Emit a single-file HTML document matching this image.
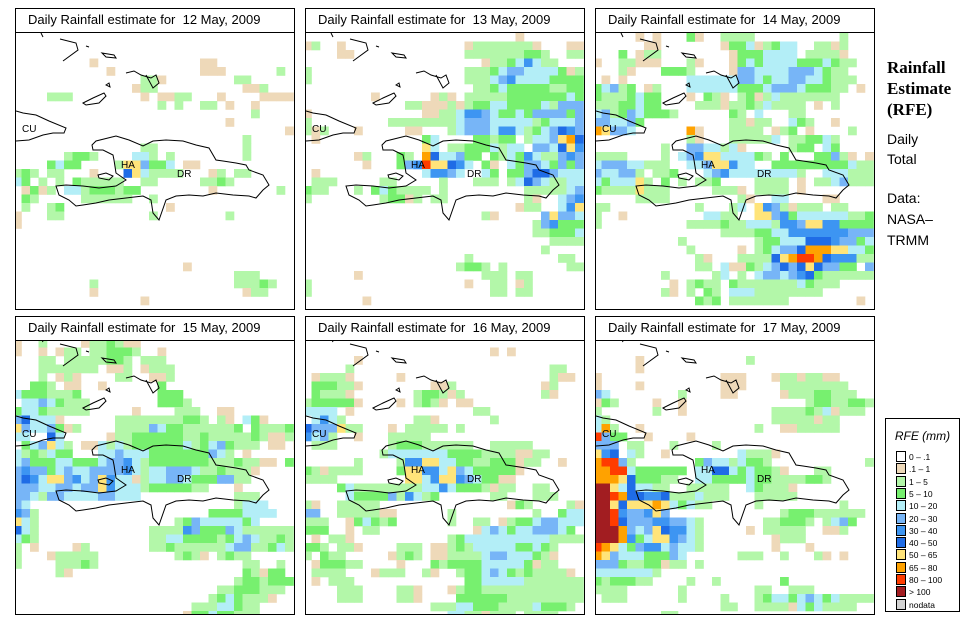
<!DOCTYPE html>
<html><head><meta charset="utf-8"><style>
body{margin:0;background:#fff;width:971px;height:635px;overflow:hidden;position:relative;font-family:"Liberation Sans",sans-serif}
.tbox{position:absolute;border:1px solid #000;box-sizing:border-box;font-size:13px;line-height:22px;padding-left:12px;white-space:pre;background:#fff}
svg.map{position:absolute;border:1px solid #000;box-sizing:border-box;background:#fff}
.side{position:absolute;left:887px;font-size:14px;line-height:20px}
</style></head><body>
<div id="root"></div>
<div class="side" style="top:57px;font-family:'Liberation Serif',serif;font-weight:bold;font-size:17px;line-height:21px">Rainfall<br>Estimate<br>(RFE)</div>
<div class="side" style="top:129px">Daily<br>Total</div>
<div class="side" style="top:188px;line-height:21px">Data:<br>NASA–<br>TRMM</div>
<div id="legend" style="position:absolute;left:885px;top:418px;width:75px;height:194px;border:1px solid #000;box-sizing:border-box"></div>
<script>
const catCodes=['.','t','g','G','c','b','B','D','y','o','r','m','n'];
const catLabels=['0 – .1','.1 – 1','1 – 5','5 – 10','10 – 20','20 – 30','30 – 40','40 – 50','50 – 65','65 – 80','80 – 100','> 100','nodata'];
const catColors=['#ffffff','#eed9b9','#b3f7a9','#77f06f','#b3eef7','#77b5f7','#3d95f2','#1f6ce6','#ffe47a','#ffa200','#ff3c00','#a21d21','#d3d3d3'];
const panelDates=['12 May, 2009','13 May, 2009','14 May, 2009','15 May, 2009','16 May, 2009','17 May, 2009'];
const p1=["","","","9t 22-23t","11t 22-24t 31g","15-16g 17t 26-27g","14t 15-16g 27-28t 29g","4-6g 15t 17-18t 19-20g 24t 29-32t","17g 19g 22-23g 25t 28t","28g","25t","32t","27g","15-16g 27g","6g 7-8G 9g 14-15c 16g 18g 27g","4G 5c 6-7G 12g 13-14y 15b 16-17G 18c 20-21t","0g 1G 2g 4-5g 9t 13D 14y 15c 16-19g 23t 24g 26-27g","0c 1G 3g 5g 7G 8-12g 15-16g 22-23g 24G 25g","1t 2G 3t 4g 6-7c 8g 9-11G 12g 13-14G 23t 31g","1G 2g 8-13g 16g","1g 4g 5G 18t","0t 4-5g 16g 25g","0t","","","","","20t","26-28g","9g 26-28g 29G 30g","9t 27t 28-29g","15t"];
const p2=["25t","0t 1g 4t 19t 20-26g 27t 31-32t","4-5t 19-25g 26-27G 28g 31-32g","21t 22g 23g 24G 25c 26B 27c 28-29g","0g 19-21g 22G 23c 24-25b 26-29c 30G 31t 32g","0g 19-21g 22c 23b 24B 25-28c 29-32G","20g 21g 22G 23c 24-28G 29-30g 31-32G","8t 15t 16g 17t 19-23g 24-30G 31c 32G","12-13g 14-16t 17g 18t 19g 20-21G 22-23c 24-27G 28c 29g 30-32b","0t 14t 15t 16-17g 18c 19-20B 21b 22c 23-24G 25c 26G 27-30b 31G 32b","0g 10-17g 18c 19-21b 22-26c 27g 28G 29-31c 32b","0g 1t 2g 6t 12-13t 17g 18c 19-21b 22c 23-24B 25c 26g 27G 28c 29b 30D 31B 32b","1t 14G 15c 20-21G 22g 23-24G 26g 27-28c 29b 30y 31o 32D","14y 15c 17-18g 19-21G 22c 23g 24-25c 27-28b 29c 30D 31y 32B","6t 7g 11G 12g 14o 15D 16-17c 18b 19-20G 22G 23g 24c 25G 26B 27c 28-29g 30b 31B 32b","7t 11G 12b 13B 14r 15-16y 17D 18B 19c 21G 22t 24c 25G 26-27b 28c 29G 30b 31G 32b","1t 14c 15-16B 17b 18c 21c 22G 24-25G 26b 27-28D 29b 30-32c","1-3g 9-10g 16g 20-21g 22g 24g 25c 26D 27b 28c 29-30g 31-32c","0G 1-2g 6g 8G 9c 10G 11-14g 16g 26-27g 28-30g 31c 32b","0g 9g 10-11G 12t 13g 15-16g 26g 27t 30c 31b 32B","25t 26-27g 30c 31B 32y","21g 22t 28b 29y 30-31b 32c","27g 28b 29B 30-32G","27-28g 29-31G 32c","29-32g","28g","19g 30-31g","18g 19-20G 21g 23g 31-32g","6t 21-23g 25-26g","0g 19t 22-23g 25t 26g","0g 22-23g 25-26g","7t"];
const p3=["5t 7t 11G 12t 15-18g 29g","6-7t 15t 16-17G 18c 19t 20g 21G 22-23c 26-27g 28t 29g","3G 5t 6-7g 16t 17-19G 20-23c 25-28g 29t","0t 3-4g 5-7t 11g 12t 16t 17G 18c 19G 20-23c 24-26G 27c 28G 29-30g","3g 4t 8-10G 11g 16t 17-18b 19-22c 23-25b 26c 27G 28-29g","1t 3t 11-16c 17-18b 19c 20G 21-22c 23-24b 25-26c 27G 28-30g","0G 1c 2b 3g 4G 6t 7g 11-16c 17-19G 20c 21-23b 24c 25-27G 28-29g 31t","0G 1-3g 4G 5c 6-7G 11t 13G 14g 15t 17g 18G 19t 20g 21c 22-28g","0-2g 3-4G 5c 6-7G 12-14g 15t 16g 17g 18G 19g 20c 21-24g 26t 28g","0c 1b 2g 3G 4b 5c 6-8G 9g 16G 17g 19c 23-24g","0b 1b 2-3c 4b 5G 16-17g 18t 19-20g 23c 24G 25g 28t","0o 1y 2-3b 4c 11o 12t 16-19g 21t 22g 23G 25t 30g","11g 12t 16-20g 21c 23-24g 25-26G 27c 28g","8g 11-12b 13-14c 15g 16c 17t 23g 24-25G 27c 28G","0-3g 8g 10c 11b 12B 13y 14y 15c 16-18c 19G 20g 22G 26-27G 28b 29g 30t 32t","0c 1-3b 4-5c 6-8g 11-12c 13b 14-15y 16B 17c 18c 21G 22-29G 30c 31-32g","0b 1-2c 3-4b 5g 7-8g 9G 13c 14b 15B 16-22c 23c 24g 27-29c 30-32g","0c 1G 2-4c 5y 6g 8G 10g 12-13g 14G 19-22g 24t 26-27g 28c 29b 30-32g","0G 1-4g 5y 6-8g 14-15g 16g 17t 19-22g 24t","5-8g 17g 18t 21-22c 27-28t","0-1g 12g 16g 17c 19y 20B 21b 22g 23t 24-26g 28-29g","0g 3t 13-14c 15-16g 19-20y 21b 22B 23G 24-29c 30-31g 32G","0g 11-14g 15G 16-17g 18-20c 21g 22-23B 24b 25-26y 27-28B 29-30G 31-32G","15-18g 19-20G 21-22c 23-29B 30-31b 32b","10g 19g 20-21G 22-24c 25-27D 28B 29-30b 31G 32c","11g 17t 19g 20G 21c 22-23b 24D 25-27o 28-29y 30-31c 32G","12g 13t 17-19g 20g 21D 22y 23o 24-25r 26o 27D 28-30B 31g 32g","12-13g 15c 16-17t 18G 19g 20c 21b 22D 23b 24D 25y 26D 27-28b 29-30G 32b","8g 14g 15c 17g 19c 20-21b 22c 23b 24B 25D 26G 27-31g 32g","9t 11g 12G 13-14g 16G 17-23g 24c 25G 26-27g 28g","8g 9t 11g 13G 14g 16-18c 19g 20-24g 25g 26g","12G 13g 14G 16-19g 20-22g 31t"];
const p4=["0t 3g 8t 9-10g 11G 12g 13-14t","0t 3t 5t 6-7g 9-10g 11-13G 14g 17t","3-4g 6-7g 8-10g 11-12G 13g 15-17g","3-4g 5-9g 11-12t 13g 15t 16-18g","3g 5t 6g 7t 12-13g 16-17t 18g","2-3G 4g 6-7t 10t 17G","0c 1-3G 4-6g 7G 17-19G","1c 2c 3b 4c 5G 6-8g 17-19G 20g","0G 1-2c 3G 4-8g 14t 19-21g 24-25t","0b 1D 2-4c 5t 12-19g 20-21G 22g 24g 25t 27c 28G 29t","0y 1b 2-3c 4b 5G 6t 7g 12-15g 16b 17c 18-19G 20-25g 26G 28G 29-31g 32G","0c 1c 4D 5c 11t 12-13g 14-19G 20-21g 22G 23-25g 26-27g 28G 29g 30-31t 32g","1G 2c 3b 4y 5c 6g 8-9t 10c 11g 12c 13g 14-19G 20c 21g 22G 23c 24b 25G 26-28g 30-31t 33t","0c 1g 2G 3g 4c 5-6G 10-11c 12b 13-14c 15c 16-22G 23b 24c 25g 27t","0c 1b 2-4G 5-6c 7-9G 10c 11-12b 13B 14c 15g 16-22G 23-25g 26G 27-28g 29-30t 32G","0b 1B 2-3b 4G 5c 6b 7-8c 9-12b 13B 14c 15g 16-17c 18-20b 21c 22-23g 24G 25-27g 28t","0b 1D 2B 3c 4-5y 6b 7B 8c 9b 10y 11B 12c 13c 14t 15g 16-17c 18-19b 20c 21-22G 23G 24-25b 26-27g","0-2b 3-4c 5-6b 7c 8b 9b 10y 11B 12-14c 15g 16-20G 21-22g 26t","0-1b 2c 3g 4-5b 6-7c 8-9c 10-11b 12-14c 26-28g","0b 1c 26g 27-29c","0B 1b 2g 23-26G 27-30c","0y 1c 2g 19g 20G 21b 22-26c 27G 28c","0D 1c 2g 16-19g 20B 21b 22-24G 25b 26c 27-32g","0c 1G 2g 16-17g 18-19c 20-23G 24g 25G 26c 27b 28c 29-30g 31G 32g","0g 2t 7t 8g 16-17g 18G 19-22g 23-24g 25c 26-27b 28-29g 30G 31c 32g","0g 4t 5-9g 19g 20G 21g 22t 24g 25G 26-27g","0g 5-7g 8G 9g 27-28g 31g","5g 6t 27G 28g 29t 30-31G","26g 27-28G 29g 30-31G 32G","24-25g 26-28G 29-31g","23g 24G 25c 26G 27-29g 30t","21-23g 24-25c 26G 27-28g","20t 21-22G 23c 24-25G 26-28g"];
const p5=["","22t 24t","6t","5g 29-30g","1t 2-4g 5t 11t 29g 30-31t","1-3G 4-5g 6t 15-16t 17g 28t 29g","1G 2-4g 5t 13g 14-15G 16g 17t 18g 28g 29t","0g 1-5G 6t 11t 13g 14G 15g 16t 18-19t","0-3c 5t 20-21g","1c 2B 3c 4g 13-14g 15t 22g","0D 1b 2b 3b 4y 5g 6g 10t 12-16g 18g","0B 1c 2b 3g 6t 10-13g 14g","1-3g 10g 11-13G 14-19g 22-26g","9g 10-16c 17-20G 21-24g 25-26t 27-28g","6g 11g 12-13B 14-15y 16-17c 18-19G 20-21g 22-24G 25t 26-27g 30t","0G 1g 2t 3-6g 11G 12-13y 14-15B 16c 17y 18b 19c 20-24G 25t","0-3g 12-13y 14c 15B 16-17y 18B 19b 20c 21-22G 23-24t","4G 5c 6-13g 14-15c 16B 17c 18-20G 21g 22t 23-24g 27-28g","5c 6-9G 10b 11g 12B 13c 14g 15G 22-23g 27-29g","0g 1t 4-8g 24t 25G 26g 31g 32t","0-1b 4-8g 9-10t 17g 27g 30G 31-32c","0-2g 5t 6G 7c 8G 9g 10G 17g 20-21g 23t 24g 25-26G 27c 28-29b 30-32c","0-2G 5t 7-8g 20t 21c 22b 23c 24G 25-26c 27-29b 30c 31G","1t 3-4g 5t 17g 18G 19-28c 29-32g","0-1G 2g 4-5g 6t 11-13g 15-16t 17g 18G 19g 20-24c 25-26G 27c 28G 29g","0g 2G 3-4g 10t 11g 12G 13g 15-16t 17-20g 21c 22-23b 24-26c 27G 28g 29t","1t 2-4G 5-6g 11t 15G 16g 17-20G 21-25c 26G 27t 28-29g","1-4g 8t 9-11g 14g 15t 18g 19-20G 21c 22b 23c 24G 25g 26G 27-30g 31t","1t 3-5g 19-20G 21-25c 26-32g","4-6g 11-12g 13t 17t 18g 19-20G 21-32g","4-6g 11-12g 13t 18-23G 24-32g","15-17g 18-19c 20-22G 23-26g 27c 28-30G 31g","17-18c 19-20g 21t 22-24g 26-29g"];
const p6=["","","5t 18g","5t","0t 15-17t 21t 22-23g 24t 25-26g 27-28t","0t 5t 15-17t 22-29g","0b 1c 10g 15-16t 22t 23-25g 26-27G 28-30g","0t 1G 2g 7t 10t 25g 26-27G 28-29g 30-31G 32g","0g 7g 10t 21-24g 25G 26g 27c 28t 29-30g 31g","0c 1g 21-25g 26t 27-28g","0c 1o 2g 5t 19g 22-23t 24-28g","0r 1b 2-3G 6t 11t","0b 1-2b 4-5g 9g 14g","0y 1B 2D 4c 5g 8t 17c 18-20g 21t","0o 1-2r 3b 4g 12G 13b 14-15c 16g 17c 18-19G 20g 32g","0-1o 2r 3r 4c 5-10G 12-13c 14-15D 16c 17G 18c 19-20G 21g 22t 26-27g","0-2o 3y 4D 5-7G 8-9g 12-13c 14-17G 18c 19-20G 21-24g 25-26G 27g","0-1m 2y 3c 4D 5-6c 7-8g 11-15g 18c 19G 20-22g 23t","0-1m 2r 3o 4-5D 6-7B 8D 9-11g 12c 13-15g 19-23g","0-1m 2y 3D 4-6y 7o 8y 9c 10G 11c 12-13g 19g 29g","0-1m 2r 3B 4-5b 6B 7y 8b 22g 23-25G 26-31g","0-1m 2r 3D 4-6b 7-8B 9-10b 11c 12g 20-21g 22-24G 25g 27g 28c 29b 30G","0-2m 3o 4b 5c 6b 7y 8D 9-10B 11c 12g 18t 20-24g 27-28t 29g","0-2m 3o 4B 5G 6c 7-8y 9B 10b 11c 12g 21t 22-24g","0r 1o 2y 3c 4G 5b 6-7B 8c 9b 10-11c 12g 21t 25t","0o 1y 2b 3-5c 6-8G 9b 10c 17-19g 22g 26g 27t 29t","0-2b 3G 4-5g 6-7G 8t 9-10g 12g","0-6c 7g","0G 1g 2-4G 5-6g 11g 14g 22G","0-3g 10g 19-20g 23-25g","1-3g 10g 15g 19g 20G 21-22c 23G 24c 25b 26c 27G 28c 29-32g","15-16g 19-20g 21-22g 23t 24c 25G 26c 27-30g","8-9g"];
const panelGrids=[p1,p2,p3,p4,p5,p6];

const NS='http://www.w3.org/2000/svg';
const CELL=8.5, MAPW=280;
const panelX=[15,305,595];
function colX(c){return -3+c*CELL;}
function rowY(r,bottom){return (bottom?-2:0)+r*CELL;}
function catColor(ch){const i=catCodes.indexOf(ch);return catColors[i<0?0:i];}

const hisp="M76,112 L80,108 L100,103 L113,107 L127,113 L133,110 L137,108 L150,107 L167,108 L180,112 L193,115 L200,127 L207,128 L220,130 L230,132 L233,137 L247,142 L253,152 L247,157 L240,165 L233,163 L217,162 L200,160 L187,163 L173,162 L160,163 L150,167 L143,187 L137,180 L135,167 L127,163 L110,165 L93,167 L80,170 L67,172 L60,173 L53,167 L43,162 L40,153 L50,152 L67,153 L83,155 L100,153 L110,147 L100,140 L98,127 L97,122 L87,117 L77,117 Z";
const gonave="M82,142 L90,140 L97,143 L93,147 L83,145 Z";
const cuba="M0,78 L7,80 L20,82 L33,88 L50,95 L48,100 L37,100 L27,102 L13,107 L0,108";
const inagua="M67,70 L77,65 L88,60 L90,63 L83,70 L70,72 Z";
const islands=["M44,6 L60,10 L62,17 L47,28","M86,20 L98,22 L100,25 L90,24 Z","M110,40 L118,38 L125,42 L135,45 L140,42 L143,50 L137,55 L130,42","M90,52 L93,50 L94,54 Z","M25,0 L27,4","M70,13 L73,14"];

const root=document.getElementById('root');
panelGrids.forEach((grid,pi)=>{
  const bottom=pi>=3;
  const x=panelX[pi%3], ty=bottom?316:8, my=bottom?340:32, mh=bottom?275:278;
  const t=document.createElement('div');
  t.className='tbox';
  
  
  t.style.cssText=`left:${x}px;top:${ty}px;width:${MAPW}px;height:25px`;
  t.textContent='Daily Rainfall estimate for  '+panelDates[pi];
  root.appendChild(t);
  const svg=document.createElementNS(NS,'svg');
  svg.setAttribute('class','map');
  
  
  svg.setAttribute('width',MAPW);svg.setAttribute('height',mh);
  svg.style.left=x+'px';svg.style.top=my+'px';
  grid.forEach((spec,r)=>{
    spec.split(/\s+/).filter(Boolean).forEach(tok=>{
      const m=tok.match(/^(\d+)(?:-(\d+))?([A-Za-z])$/); if(!m) return;
      const a=+m[1], b=m[2]?+m[2]:a;
      for(let c=a;c<=b;c++){
        const rc=document.createElementNS(NS,'rect');
        
        
        rc.setAttribute('x',colX(c));rc.setAttribute('y',rowY(r,bottom));
        rc.setAttribute('width',CELL+0.3);rc.setAttribute('height',CELL+0.3);
        rc.setAttribute('fill',catColor(m[3]));
        svg.appendChild(rc);
      }
    });
  });
  const g=document.createElementNS(NS,'g');
  
  
  g.setAttribute('fill','none');g.setAttribute('stroke','#000');g.setAttribute('stroke-width','1');
  if(bottom) g.setAttribute('transform','translate(0,-3)');
  [hisp,gonave,cuba,inagua,...islands].forEach(d=>{
    const p=document.createElementNS(NS,'path');p.setAttribute('d',d);g.appendChild(p);
  });
  [['HA',105,135],['DR',161,144],['CU',6,99]].forEach(l=>{
    const tx=document.createElementNS(NS,'text');
    
    
    tx.setAttribute('x',l[1]);tx.setAttribute('y',l[2]);
    tx.setAttribute('font-size','10');tx.setAttribute('fill','#000');tx.setAttribute('stroke','none');
    tx.setAttribute('font-family','Liberation Sans, sans-serif');
    tx.textContent=l[0];g.appendChild(tx);
  });
  svg.appendChild(g);
  root.appendChild(svg);
});

const lg=document.getElementById('legend');
const lt=document.createElement('div');


lt.style.cssText='position:absolute;left:0;top:10px;width:73px;text-align:center;font-style:italic;font-size:12px';
lt.textContent='RFE (mm)';
lg.appendChild(lt);
catLabels.forEach((lab,i)=>{
  const e=document.createElement('div');
  
  
  e.style.cssText=`position:absolute;left:10px;top:${32+i*12.3}px;height:12px;font-size:8.5px;line-height:12px;white-space:nowrap`;
  e.innerHTML=`<span style="display:inline-block;width:10px;height:11px;background:${catColors[i]};border:1px solid #000;box-sizing:border-box;vertical-align:top;margin-right:3px"></span>${lab}`;
  lg.appendChild(e);
});
</script>
</body></html>
